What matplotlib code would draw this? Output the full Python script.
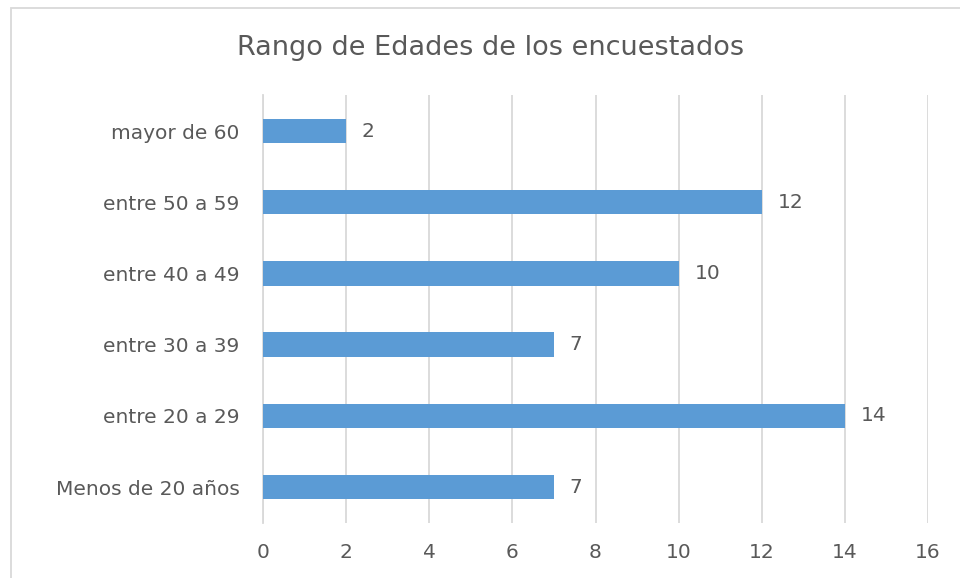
import matplotlib
matplotlib.use("Agg")
import matplotlib.pyplot as plt
from matplotlib.patches import Rectangle

# Datos
categorias = ["Menos de 20 años", "entre 20 a 29", "entre 30 a 39",
              "entre 40 a 49", "entre 50 a 59", "mayor de 60"]
valores = [7, 14, 7, 10, 12, 2]
ticks_x = [0, 2, 4, 6, 8, 10, 12, 14, 16]

plt.rcParams["font.family"] = ["DejaVu Sans"]
texto = "#595959"

fig = plt.figure(figsize=(9.6, 5.78), dpi=100)
ax = fig.add_axes([263 / 960, 1 - 522.6 / 578, 665 / 960, 427.2 / 578])

posiciones = list(range(len(categorias)))
ax.barh(posiciones, valores, height=0.34, color="#5B9BD5", zorder=3)

for p, v in zip(posiciones, valores):
    ax.text(v + 0.38, p, str(v), va="center", ha="left", fontsize=14.5, color=texto)

ax.set_xlim(0, 16)
ax.set_ylim(-0.5, len(categorias) - 0.5)
ax.set_xticks(ticks_x)
ax.set_xticklabels([str(t) for t in ticks_x])
ax.set_yticks(posiciones)
ax.set_yticklabels(categorias)
ax.tick_params(axis="both", length=0, labelsize=14.5, colors=texto)
ax.tick_params(axis="x", pad=15)
ax.tick_params(axis="y", pad=17)

ax.grid(axis="x", color="#D9D9D9", linewidth=1.3, zorder=0)
for s in ["top", "right", "bottom"]:
    ax.spines[s].set_visible(False)
ax.spines["left"].set_color("#D9D9D9")
ax.spines["left"].set_linewidth(1.3)

fig.text(491 / 960, 1 - 48 / 578, "Rango de Edades de los encuestados",
         ha="center", va="center", fontsize=19.5, color=texto)

# Borde del gráfico
fig.patches.append(Rectangle((11 / 960, -0.1), 1.2, 1 - 8 / 578 + 0.1,
                             transform=fig.transFigure, fill=False,
                             edgecolor="#D9D9D9", linewidth=1.3))

plt.savefig("out.png", dpi=100)
